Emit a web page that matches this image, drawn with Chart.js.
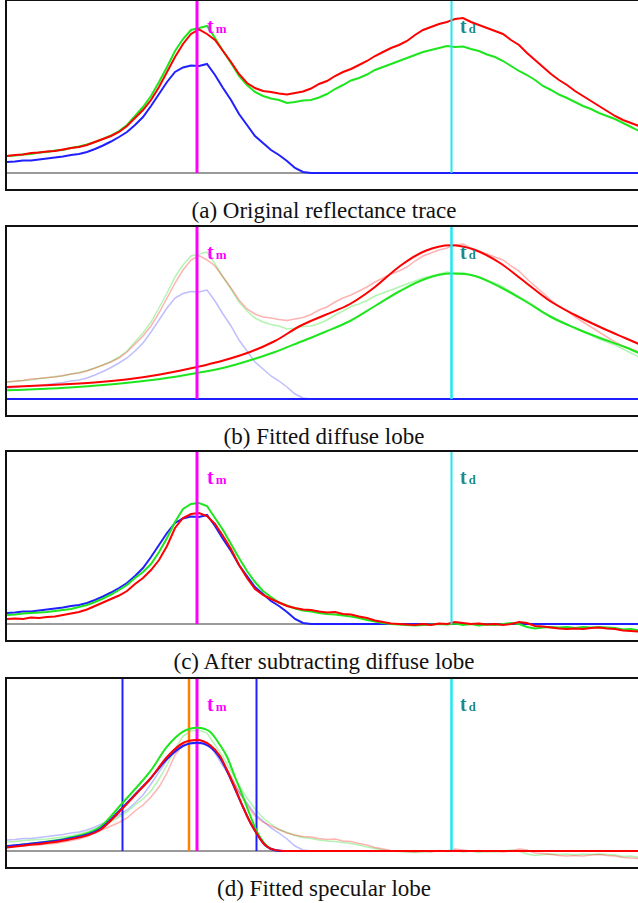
<!DOCTYPE html>
<html>
<head>
<meta charset="utf-8">
<script src="https://cdn.jsdelivr.net/npm/chart.js@4.4.0/dist/chart.umd.min.js"></script>
<style>
  body { margin: 0; background: #fff; width: 638px; height: 903px; overflow: hidden; position: relative;
         font-family: "Liberation Serif", "Times New Roman", serif; }
  .box { position: absolute; left: 5px; width: 660px; height: 188px; border: 2px solid #111; border-right: none; }
  canvas { position: absolute; left: 7px; }
  .cap { position: absolute; left: 0; width: 648px; text-align: center; font-size: 23px; line-height: 23px; color: #111; }
  .lab { position: absolute; font-weight: bold; font-size: 20px; line-height: 20px; white-space: nowrap; }
  .lab span { font-size: 13px; margin-left: 2px; }
</style>
</head>
<body>
<script>
// sample positions of the measured traces (pixel columns)
const traceX = [
  7, 15, 23, 31, 39, 47, 55, 63, 71, 79,
  87, 95, 103, 111, 119, 127, 135, 143, 151, 159,
  167, 175, 183, 191, 199, 207, 215, 223, 231, 239,
  247, 255, 263, 271, 279, 287, 295, 303, 311, 319,
  327, 335, 343, 351, 359, 367, 375, 383, 391, 399,
  407, 415, 423, 431, 439, 447, 455, 463, 471, 479,
  487, 495, 503, 511, 519, 527, 535, 543, 551, 559,
  567, 575, 583, 591, 599, 607, 615, 623, 631, 639
];

// (a) original reflectance trace, per colour channel
const blueA = [
  11, 11.5, 12.5, 12.5, 13.5, 14.5, 15.5, 16.5, 18, 19,
  21, 24, 27.5, 31.5, 36, 41, 48, 56, 67, 79,
  91, 101, 105.5, 107.5, 107, 109, 98, 85, 73, 59,
  48, 37, 30, 23, 18, 12, 5, 1, 0, 0,
  0, 0, 0, 0, 0, 0, 0, 0, 0, 0,
  0, 0, 0, 0, 0, 0, 0, 0, 0, 0,
  0, 0, 0, 0, 0, 0, 0, 0, 0, 0,
  0, 0, 0, 0, 0, 0, 0, 0, 0, 0
];
const greenA = [
  17, 17.5, 18.5, 19, 20.5, 21, 22.5, 23, 25, 26.5,
  28.5, 31, 34, 37.5, 42, 48, 57, 66, 77, 91,
  106, 122, 134, 143, 145, 147, 135, 122, 110, 97,
  88, 81, 77, 74.5, 73, 70, 71, 72.5, 73, 75.5,
  79, 84, 88, 92.5, 95, 98.5, 103, 106, 109, 112,
  115, 118, 121, 123, 125, 127, 126, 126.5, 124, 122,
  118.5, 116, 112, 107, 102, 98, 93, 87, 83, 78.5,
  75, 71, 67, 64, 60, 57, 54, 50, 46, 42
];
const redA = [
  17, 18, 18.5, 20, 20.5, 21.5, 22, 23.5, 25, 26,
  28, 31, 34, 37, 41, 47, 55, 63, 73, 86,
  101, 116, 129, 139, 143.5, 139, 133, 122, 111, 99,
  90, 85, 82, 81, 79.5, 78.5, 80, 81.5, 84.5, 89,
  92, 97, 101, 104, 108, 112, 117, 121, 125, 128,
  132, 138, 143, 146, 149, 151, 154, 155, 151, 148,
  145, 142, 139, 133, 128, 120, 113, 106, 99, 93,
  88, 82, 77, 72, 67, 62, 57, 53, 50, 47
];

// (c) after subtracting the diffuse lobe (blue is unchanged)
const greenC = [
  9, 9.5, 10.5, 11, 11.5, 12, 13, 14, 15, 17,
  19, 22, 25.5, 29.5, 34, 39, 46, 52, 60, 72,
  86, 102, 115, 120, 121, 118, 106, 94, 80, 66,
  53, 42, 33, 27, 21.5, 18.5, 15.5, 13.5, 12.5, 11,
  10, 9.5, 8.5, 7.5, 6, 4, 2.5, 1, 0, -0.5,
  -1, -1.5, -1, -0.5, 0, -0.5, 0.5, -1, 0, -1.5,
  -0.5, -1, 0, 1, 0, -3, -4.5, -3.5, -3, -3.5,
  -3, -4, -3, -3.5, -3, -3.5, -4, -5.5, -5, -6.5
];
const redC = [
  5, 5.5, 5, 6.5, 6, 7, 7.5, 9, 10.5, 12,
  14.5, 18, 21.5, 25, 28.5, 33, 40, 46, 54, 64,
  78, 96, 106, 110, 111, 108, 100, 88, 75, 59,
  46, 35, 29, 25, 21.5, 18, 16, 14.5, 14, 12.5,
  11.5, 12, 10, 9.5, 7.5, 6, 3.5, 2, 0.5, 0,
  -0.5, -1, 0, -1, 0.5, 0, 2, 1, 0, 0.5,
  -0.5, 0, -1, 0, 2, 1, -2, -2.5, -3.5, -4.5,
  -5, -4.5, -5, -4, -3.5, -4.5, -5, -6.5, -7, -7.5
];

// (b) fitted diffuse lobe
const diffuseX = [7, 40, 70, 100, 130, 160, 197, 225, 250, 275, 300, 325, 350, 375, 400, 425, 451, 475, 500, 525, 550, 575, 600, 625, 639];
const redDiffuse = [12, 13.5, 15, 17, 20, 24.5, 32, 39, 47, 58, 73, 84, 95, 112, 133, 148, 153.7, 149, 136, 117, 98, 84, 72, 61, 55];
const greenDiffuse = [8.7, 10, 11.5, 13.7, 16.5, 20, 26, 31.5, 38.7, 47, 57, 67, 78, 93, 108, 120, 125.4, 123, 112, 98, 82.5, 71, 61, 52, 46];
const blueDiffuse = [0, 0, 0, 0, 0, 0, 0, 0, 0, 0, 0, 0, 0, 0, 0, 0, 0, 0, 0, 0, 0, 0, 0, 0, 0];

// (d) fitted specular lobe
const specX = [7, 33, 67, 100, 122, 136, 150, 167, 183, 197, 210, 220, 227, 235, 243, 250, 257, 264, 270, 283, 300, 400, 500, 639];
const greenSpec = [4.5, 7.7, 12.7, 24, 47.5, 63, 79.3, 104.3, 119.3, 123.3, 119.3, 106, 94.3, 74, 54.3, 36, 19.3, 8, 2.7, 0, 0, 0, 0, 0];
const redSpec = [3.5, 6.5, 11, 21, 42, 57, 72, 94, 108, 111, 106, 95, 81, 63, 44, 29, 17, 7, 2.7, 0, 0, 0, 0, 0];
const blueSpec = [5, 7.5, 12, 22, 43, 57.5, 72, 92, 105, 108.3, 104, 93, 80, 62, 44, 29, 17, 7, 2.5, 0, 0, 0, 0, 0];

// marker times
const tm = 197;
const td = 451.5;
const specPeak = 189;
const lobeEdges = [122.5, 256.5];

const Y_MIN = -16, Y_MAX = 172, X_MIN = 7, X_MAX = 638;
const RED = "#ff0000", GREEN = "#1ee61e", BLUE = "#2020ff";
const RED_F = "rgba(255,0,0,0.3)", GREEN_F = "rgba(0,220,0,0.3)", BLUE_F = "rgba(40,40,255,0.3)";
const MAGENTA = "#ff00ff", CYAN = "#1ee8f0", TEAL = "#1a8c90", ORANGE = "#ff8000";

function pts(xs, ys) {
  return xs.map((x, i) => ({ x: x, y: ys[i] }));
}
function trace(xs, ys, color, width, smooth) {
  return {
    data: pts(xs, ys), borderColor: color, borderWidth: width, pointRadius: 0, fill: false,
    tension: 0, cubicInterpolationMode: smooth ? "monotone" : "default"
  };
}
function vline(x, color, width) {
  return { data: [{ x: x, y: 0 }, { x: x, y: Y_MAX }], borderColor: color, borderWidth: width, pointRadius: 0, fill: false };
}
function baseLine() {
  return { data: [{ x: X_MIN, y: 0 }, { x: 639, y: 0 }], borderColor: "#9a9a9a", borderWidth: 2, pointRadius: 0, fill: false };
}

// first dataset is drawn on top
const panels = [
  {
    base: 173, caption: "(a) Original reflectance trace",
    datasets: () => [
      vline(tm, MAGENTA, 3), vline(td, CYAN, 2),
      trace(traceX, redA, RED, 2), trace(traceX, greenA, GREEN, 2), trace(traceX, blueA, BLUE, 2),
      baseLine()
    ]
  },
  {
    base: 399, caption: "(b) Fitted diffuse lobe",
    datasets: () => [
      vline(tm, MAGENTA, 3), vline(td, CYAN, 2.5),
      trace(diffuseX, redDiffuse, RED, 2, true), trace(diffuseX, greenDiffuse, GREEN, 2, true),
      trace(diffuseX, blueDiffuse, BLUE, 2),
      trace(traceX, redA, RED_F, 1.5), trace(traceX, greenA, GREEN_F, 1.5), trace(traceX, blueA, BLUE_F, 1.5),
      baseLine()
    ]
  },
  {
    base: 624, caption: "(c) After subtracting diffuse lobe",
    datasets: () => [
      vline(tm, MAGENTA, 3), vline(td, CYAN, 2),
      trace(traceX, redC, RED, 2), trace(traceX, greenC, GREEN, 2), trace(traceX, blueA, BLUE, 2),
      baseLine()
    ]
  },
  {
    base: 851, caption: "(d) Fitted specular lobe",
    datasets: () => [
      trace(specX, redSpec, RED, 2, true), trace(specX, blueSpec, BLUE, 2, true), trace(specX, greenSpec, GREEN, 2, true),
      vline(tm, MAGENTA, 3), vline(specPeak, ORANGE, 2.5),
      vline(lobeEdges[0], BLUE, 2), vline(lobeEdges[1], BLUE, 2), vline(td, CYAN, 2.5),
      trace(traceX, redC, RED_F, 1.5), trace(traceX, greenC, GREEN_F, 1.5), trace(traceX, blueA, BLUE_F, 1.5),
      baseLine()
    ]
  }
];

function label(main, sub, color, left, top) {
  const el = document.createElement("div");
  el.className = "lab";
  el.style.color = color;
  el.style.left = left + "px";
  el.style.top = top + "px";
  el.innerHTML = main + "<span>" + sub + "</span>";
  document.body.appendChild(el);
}

panels.forEach((p) => {
  const box = document.createElement("div");
  box.className = "box";
  box.style.top = (p.base - 174) + "px";
  document.body.appendChild(box);

  const canvas = document.createElement("canvas");
  canvas.width = 631;
  canvas.height = 188;
  canvas.style.top = (p.base - 172) + "px";
  document.body.appendChild(canvas);

  new Chart(canvas.getContext("2d"), {
    type: "line",
    data: { datasets: p.datasets() },
    options: {
      responsive: false,
      animation: false,
      devicePixelRatio: 1,
      layout: { padding: 0, autoPadding: false },
      plugins: { legend: { display: false }, tooltip: { enabled: false } },
      scales: {
        x: { type: "linear", min: X_MIN, max: X_MAX, display: false },
        y: { min: Y_MIN, max: Y_MAX, display: false }
      }
    }
  });

  label("t", "m", MAGENTA, tm + 10, p.base - 174 + 17);
  label("t", "d", TEAL, td + 8.5, p.base - 174 + 17);

  const cap = document.createElement("div");
  cap.className = "cap";
  cap.style.top = (p.base + 45 - 19) + "px";
  cap.textContent = p.caption;
  document.body.appendChild(cap);
});
</script>
</body>
</html>
